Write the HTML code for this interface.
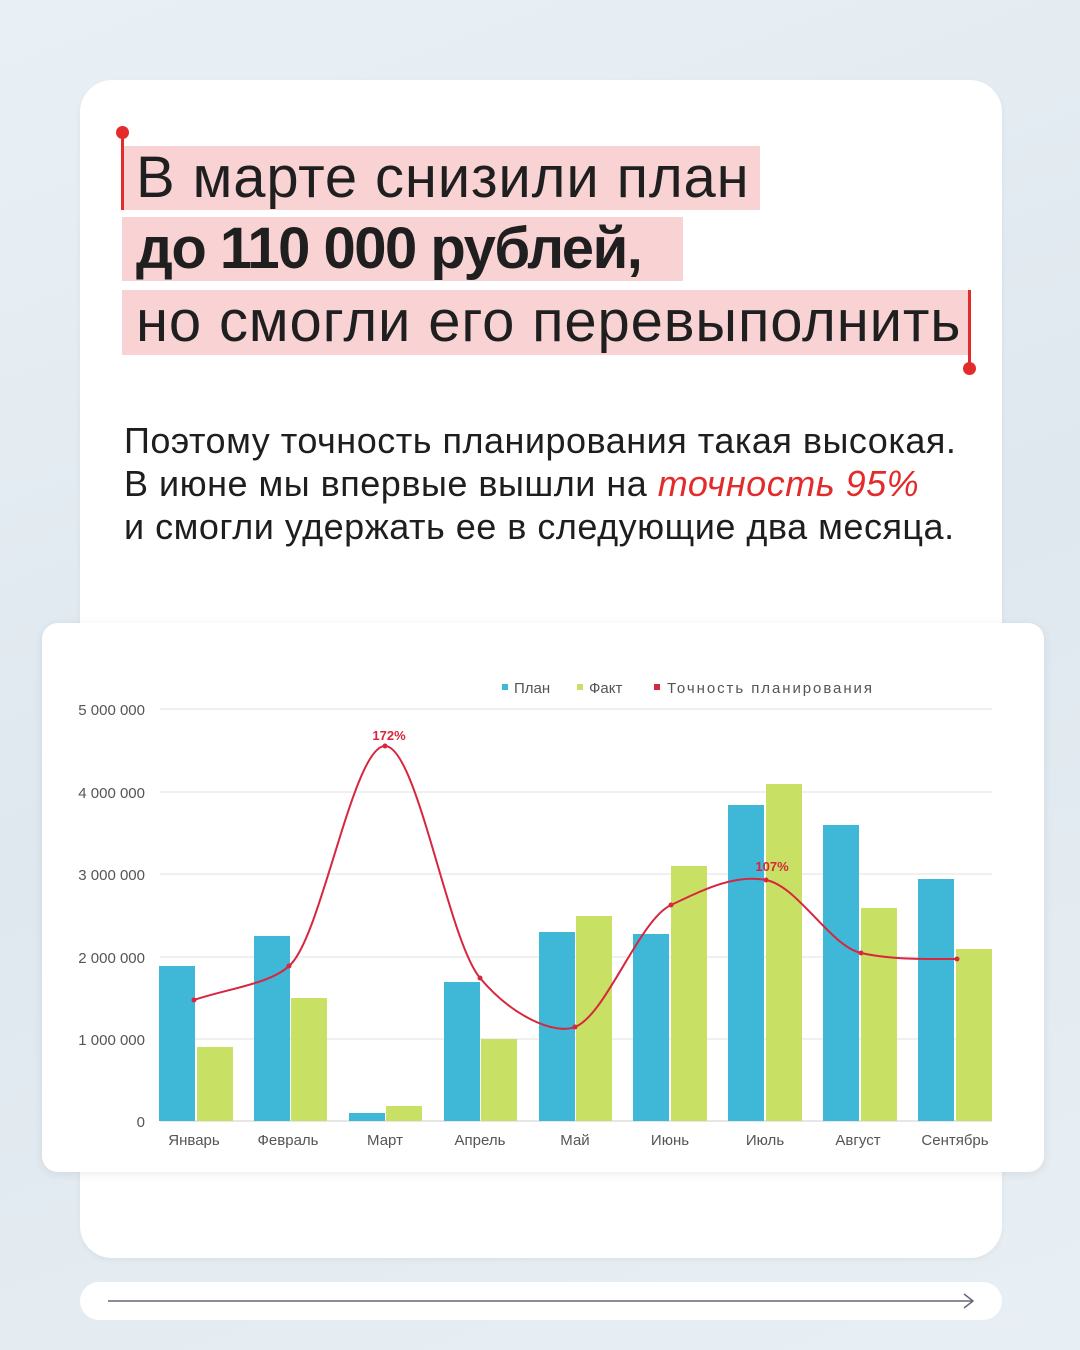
<!DOCTYPE html>
<html><head><meta charset="utf-8"><style>
body{margin:0;width:1080px;height:1350px;background:linear-gradient(160deg,#e9f0f5,#dfe8ef 50%,#e8eff4);font-family:"Liberation Sans","DejaVu Sans",sans-serif;position:relative;overflow:hidden}
.card{position:absolute;left:80px;top:80px;width:922px;height:1178px;background:#fff;border-radius:32px;box-shadow:0 2px 6px rgba(0,0,0,.05)}
.hl{position:absolute;left:122px;background:#f9d3d4;color:#1f1f1f;font-size:58px;line-height:64px;white-space:nowrap;padding-left:14px;letter-spacing:0.85px}
.p{position:absolute;left:124px;font-size:36px;color:#1e1e1e;white-space:nowrap;letter-spacing:0.5px}
.chart{position:absolute;left:42px;top:623px;width:1002px;height:549px;background:#fff;border-radius:16px;box-shadow:0 2px 10px rgba(0,0,0,.08)}
.bar{position:absolute;left:80px;top:1282px;width:922px;height:38px;background:#fff;border-radius:19px}
</style></head><body>
<div class="card"></div>
<div class="hl" style="top:146px;width:624px;height:64px">В марте снизили план</div>
<div class="hl" style="top:217px;width:547px;height:64px;font-weight:bold;letter-spacing:-1.5px">до 110 000 рублей,</div>
<div class="hl" style="top:290px;width:834px;height:65px">но смогли его перевыполнить</div>
<div style="position:absolute;left:121px;top:132px;width:3px;height:78px;background:#e32b2b"></div>
<div style="position:absolute;left:116px;top:126px;width:13px;height:13px;border-radius:50%;background:#e32b2b"></div>
<div style="position:absolute;left:968px;top:290px;width:3px;height:78px;background:#e32b2b"></div>
<div style="position:absolute;left:963px;top:362px;width:13px;height:13px;border-radius:50%;background:#e32b2b"></div>
<div class="p" style="top:420px">Поэтому точность планирования такая высокая.</div>
<div class="p" style="top:463px">В июне мы впервые вышли на <i style="color:#e32b2b">точность 95%</i></div>
<div class="p" style="top:506px">и смогли удержать ее в следующие два месяца.</div>
<div class="chart"></div>
<svg style="position:absolute;left:0;top:0" width="1080" height="1350" font-family="Liberation Sans, DejaVu Sans, sans-serif">
<g stroke="#ececec" stroke-width="1.5">
<line x1="160" x2="992" y1="709" y2="709"/><line x1="160" x2="992" y1="792" y2="792"/><line x1="160" x2="992" y1="874" y2="874"/><line x1="160" x2="992" y1="957" y2="957"/><line x1="160" x2="992" y1="1039" y2="1039"/><line x1="160" x2="992" y1="1121" y2="1121" stroke="#ddd"/>
</g>
<g fill="#555" font-size="15" text-anchor="end">
<text x="145" y="715">5 000 000</text><text x="145" y="798">4 000 000</text><text x="145" y="880">3 000 000</text><text x="145" y="963">2 000 000</text><text x="145" y="1045">1 000 000</text><text x="145" y="1127">0</text>
</g>
<g fill="#3fb7d6">
<rect x="159" y="966" width="36" height="155"/><rect x="254" y="936" width="36" height="185"/><rect x="349" y="1113" width="36" height="8"/><rect x="444" y="982" width="36" height="139"/><rect x="539" y="932" width="36" height="189"/><rect x="633" y="934" width="36" height="187"/><rect x="728" y="805" width="36" height="316"/><rect x="823" y="825" width="36" height="296"/><rect x="918" y="879" width="36" height="242"/>
</g>
<g fill="#c8e063">
<rect x="197" y="1047" width="36" height="74"/><rect x="291" y="998" width="36" height="123"/><rect x="386" y="1106" width="36" height="15"/><rect x="481" y="1039" width="36" height="82"/><rect x="576" y="916" width="36" height="205"/><rect x="671" y="866" width="36" height="255"/><rect x="766" y="784" width="36" height="337"/><rect x="861" y="908" width="36" height="213"/><rect x="956" y="949" width="36" height="172"/>
</g>
<path d="M194,1000 C226,989 270,984 289,966 C321,940 353,746 385,746 C417,746 448,940 480,978 C512,1016 554,1035 575,1027 C606,1015 639,920 671,905 C703,890 734,874 766,880 C798,886 830,946 861,953 C893,960 925,959 957,959" fill="none" stroke="#d7263d" stroke-width="2"/>
<g fill="#d7263d"><circle cx="194" cy="1000" r="2.5"/><circle cx="289" cy="966" r="2.5"/><circle cx="385" cy="746" r="2.5"/><circle cx="480" cy="978" r="2.5"/><circle cx="575" cy="1027" r="2.5"/><circle cx="671" cy="905" r="2.5"/><circle cx="766" cy="880" r="2.5"/><circle cx="861" cy="953" r="2.5"/><circle cx="957" cy="959" r="2.5"/></g>
<text x="389" y="740" fill="#d7263d" font-size="13" font-weight="bold" text-anchor="middle">172%</text>
<text x="772" y="871" fill="#d7263d" font-size="13" font-weight="bold" text-anchor="middle">107%</text>
<g fill="#555" font-size="15" text-anchor="middle">
<text x="194" y="1145">Январь</text><text x="288" y="1145">Февраль</text><text x="385" y="1145">Март</text><text x="480" y="1145">Апрель</text><text x="575" y="1145">Май</text><text x="670" y="1145">Июнь</text><text x="765" y="1145">Июль</text><text x="858" y="1145">Август</text><text x="955" y="1145">Сентябрь</text>
</g>
<rect x="502" y="684" width="6" height="6" fill="#3fb7d6"/><text x="514" y="693" fill="#555" font-size="15">План</text>
<rect x="577" y="684" width="6" height="6" fill="#c8e063"/><text x="589" y="693" fill="#555" font-size="15">Факт</text>
<rect x="654" y="684" width="6" height="6" fill="#d7263d"/><text x="667" y="693" fill="#555" font-size="15" textLength="205">Точность планирования</text>
</svg>
<div class="bar"></div>
<svg style="position:absolute;left:0;top:0" width="1080" height="1350"><line x1="108" y1="1301" x2="972" y2="1301" stroke="#667" stroke-width="1.5"/><path d="M964,1294 L973,1301 L964,1308" fill="none" stroke="#667" stroke-width="1.5"/></svg>
</body></html>
